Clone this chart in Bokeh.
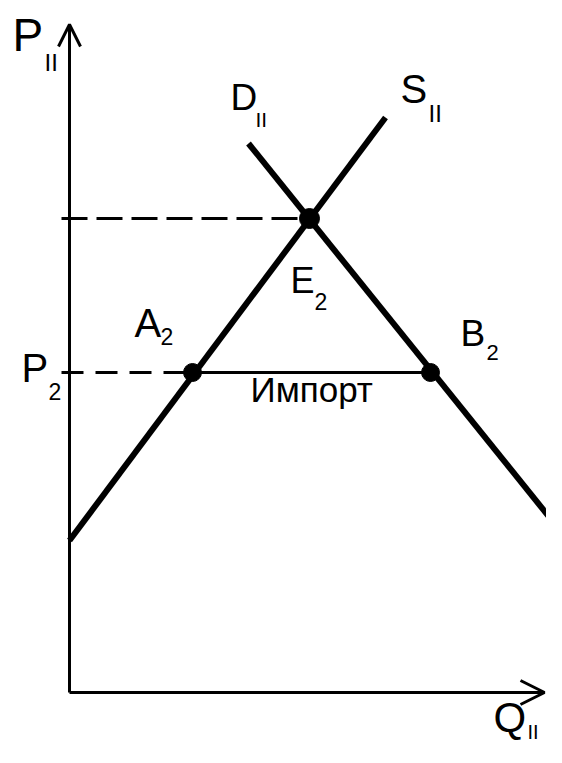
from bokeh.plotting import figure
from bokeh.models import Arrow, OpenHead, Range1d
from bokeh.core.properties import value
from bokeh.embed import file_html
from bokeh.resources import INLINE

# Data (arbitrary units: quantity Q, price P)
supply_q = [0.0, 31.6]
supply_p = [15.2, 57.5]
demand_q = [17.9, 49.3]
demand_p = [54.9, 15.9]
eq_q, eq_p = 24.0, 47.4          # E2
a2_q, b2_q, p2 = 12.3, 36.1, 32.0  # A2, B2 at world price P2
axis_q_end, axis_p_end = 47.5, 66.8

FONT = "Liberation Sans"

p = figure(width=546, height=747, output_backend="svg", toolbar_location=None,
           x_range=Range1d(-6.9, 47.7), y_range=Range1d(-5.5, 69.2),
           min_border=0)
p.axis.visible = False
p.grid.visible = False
p.outline_line_color = None

# axes with open arrow heads
p.add_layout(Arrow(x_start=0, y_start=0, x_end=0, y_end=axis_p_end,
                   line_width=3, line_color="black",
                   end=OpenHead(size=22, line_width=3, line_color="black")))
p.add_layout(Arrow(x_start=0, y_start=0, x_end=axis_q_end, y_end=0,
                   line_width=3, line_color="black",
                   end=OpenHead(size=24, line_width=3, line_color="black")))

# dashed guide lines
p.line([-0.8, eq_q], [eq_p, eq_p], line_width=3, line_color="black", line_dash="26 9")
p.line([-0.8, a2_q], [p2, p2], line_width=3, line_color="black", line_dash="22 12")
# import segment
p.line([a2_q, b2_q], [p2, p2], line_width=3, line_color="black")

# supply and demand
p.line(supply_q, supply_p, line_width=6, line_color="black")
p.line(demand_q, demand_p, line_width=6, line_color="black")

# points
p.scatter([eq_q], [eq_p], size=20, color="black")
p.scatter([a2_q, b2_q], [p2, p2], size=18, color="black")

def label(x, y, t, size):
    p.text([x], [y], text=[t], text_font=value(FONT), text_font_size=f"{size}px",
           text_align="left", text_baseline="alphabetic", text_color="black")

label(-5.7, 65.8, "P", 46); label(-2.5, 63.0, "II", 24)
label(16.1, 59.5, "D", 37); label(18.6, 57.3, "II", 21)
label(33.1, 60.4, "S", 40); label(35.9, 57.9, "II", 24)
label(22.1, 41.2, "E", 36); label(24.5, 39.1, "2", 23)
label(6.5, 37.0, "A", 40); label(9.1, 35.6, "2", 23)
label(-4.8, 32.5, "P", 40); label(-2.1, 30.1, "2", 23)
label(39.1, 35.9, "B", 37); label(41.7, 34.0, "2", 22)
label(18.1, 30.3, "Импорт", 35)
label(42.4, -2.5, "Q", 42); label(45.8, -3.9, "II", 20)

open("out.html", "w").write(file_html(p, INLINE))
